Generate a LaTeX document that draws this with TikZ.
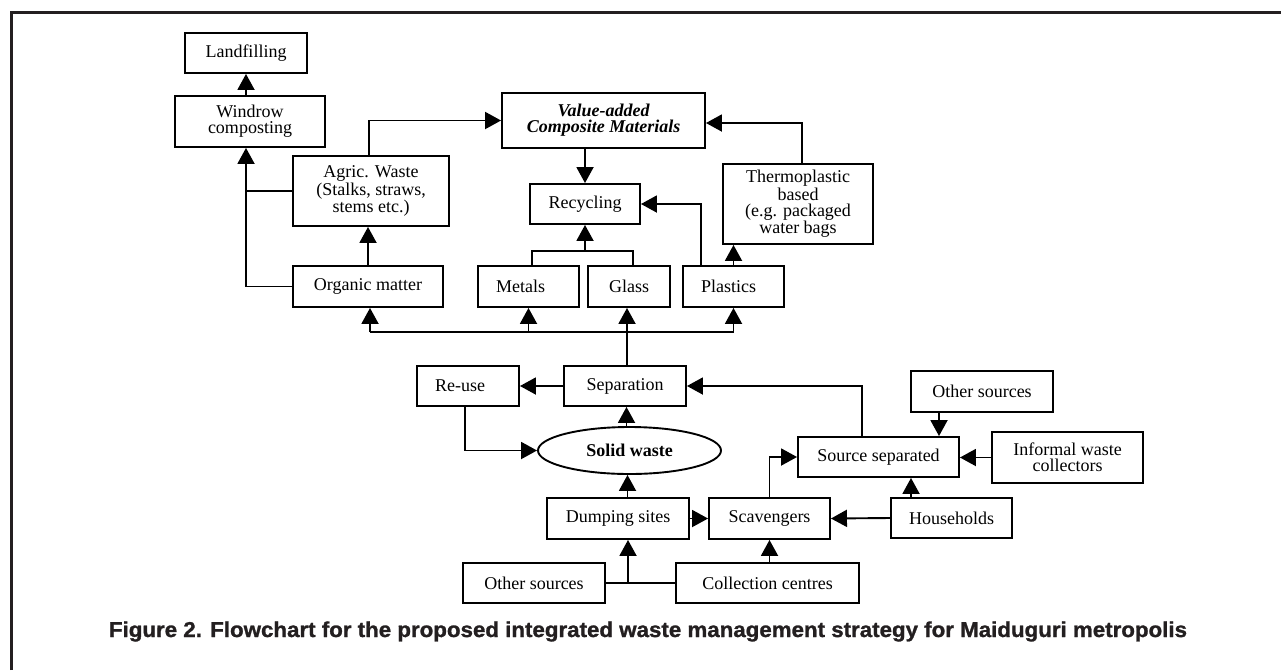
\documentclass[tikz,border=0pt]{standalone}
\usepackage{fontspec}
\setmainfont{Liberation Serif}
\newfontfamily\capfont{Liberation Sans}[BoldFeatures={FakeBold=1.2}]
\usetikzlibrary{arrows.meta,shapes.geometric,calc}
\definecolor{capcol}{RGB}{35,31,32}
\tikzset{
  box/.style={draw, line width=1.9pt, inner sep=0pt, align=center,
    font=\fontsize{18}{16}\selectfont},
  arr/.style={line width=1.9pt, -{Triangle[length=16pt,width=17pt]}},
  ln/.style={line width=1.9pt},
}
\newcommand{\bx}[6]{\node[box, minimum width=#4pt, minimum height=#5pt] (#1) at (#2,#3) {#6};}
\begin{document}
\begin{tikzpicture}[x=1pt,y=-1pt]
\useasboundingbox (0,0) rectangle (1281,670);
% frame
\draw[line width=3pt, color=capcol] (11.5,670) -- (11.5,12.5) -- (1281,12.5);

\bx{land}{246}{53}{122}{40}{Landfilling}
\bx{wind}{250}{121.5}{150}{51}{Windrow\\composting}
\bx{agric}{371}{191}{156}{70}{\fontsize{18}{18}\selectfont Agric. Waste\\(Stalks, straws,\\stems etc.)}
\bx{value}{603.5}{120.5}{203}{55}{\bfseries\itshape Value-added\\\bfseries\itshape Composite Materials}
\bx{recyc}{585}{204}{110}{40}{Recycling}
\bx{thermo}{798}{204}{150}{80}{Thermoplastic\\based\\(e.g. packaged\\water bags}
\bx{organic}{368}{286.5}{150}{41}{Organic matter}
\bx{metals}{528.5}{286.5}{101}{41}{Metals\hspace*{16pt}}
\bx{glass}{629}{286.5}{82}{41}{Glass}
\bx{plastics}{733.5}{286.5}{101}{41}{Plastics\hspace*{10pt}}
\bx{reuse}{468}{386}{102}{40}{Re-use\hspace*{16pt}}
\bx{sep}{625}{386}{122}{40}{Separation}
\node[draw, ellipse, line width=1.9pt, minimum width=183pt, minimum height=47pt, inner sep=0pt,
  font=\fontsize{18}{16}\selectfont\bfseries] (solid) at (629.5,450.5) {Solid waste};
\bx{srcsep}{878.5}{457}{161}{40}{Source separated}
\bx{other1}{982}{391.5}{142}{41}{Other sources}
\bx{informal}{1067.5}{457.5}{151}{51}{Informal waste\\collectors}
\bx{dump}{618}{518.5}{142}{41}{Dumping sites}
\bx{scav}{769.5}{518.5}{121}{41}{Scavengers}
\bx{house}{951.5}{518}{121}{40}{Households}
\bx{other2}{534}{583}{142}{40}{Other sources}
\bx{coll}{767.5}{583}{183}{40}{Collection centres}

% connectors
\draw[arr] (land.south |- wind.north) -- (land.south);
\draw[arr] (organic.west) -| ([xshift=-4pt]wind.south);
\draw[ln] (agric.west) -- ([xshift=-4pt]wind.south |- agric.west);
\draw[arr] (organic.north) -- (organic.north |- agric.south);
\draw[arr] ([xshift=-2pt]agric.north) |- (value.west);
\draw[arr] (recyc.north |- value.south) -- (recyc.north);
\draw[ln] ([xshift=3.5pt]metals.north) |- ([yshift=-26pt]recyc.south) -| ([xshift=4pt]glass.north);
\draw[arr] ([yshift=-26pt]recyc.south) -- (recyc.south);
\draw[arr] ([xshift=-32.5pt]plastics.north) |- (recyc.east);
\draw[arr] (plastics.north) -- (plastics.north |- thermo.south);
\draw[arr] ([xshift=4pt]thermo.north) |- ([yshift=-2.5pt]value.east);
\coordinate (bus) at (0,332);
\draw[ln] ([xshift=2pt]organic.south |- bus) -- (plastics.south |- bus);
\draw[arr] ([xshift=2pt]organic.south |- bus) -- ([xshift=2pt]organic.south);
\draw[arr] (metals.south |- bus) -- (metals.south);
\draw[arr] (plastics.south |- bus) -- (plastics.south);
\draw[arr] ([xshift=2pt]sep.north) -- ([xshift=2pt]sep.north |- glass.south);
\draw[arr] (sep.west) -- (reuse.east);
\draw[arr] ([xshift=-3pt]reuse.south) |- (solid.west);
\draw[arr] ([xshift=-3pt]solid.north) -- ([xshift=-3pt]solid.north |- sep.south);
\draw[arr] ([xshift=-2pt]solid.south |- dump.north) -- ([xshift=-2pt]solid.south);
\draw[arr] (dump.east) -- (scav.west);
\draw[arr] (scav.north) |- (srcsep.west);
\draw[arr] ([xshift=-16.5pt]srcsep.north) |- (sep.east);
\draw[arr] ([xshift=-43pt]other1.south) -- ([xshift=-43pt]other1.south |- srcsep.north);
\draw[arr] (informal.west) -- (informal.west -| srcsep.east);
\draw[arr] (house.west) -- (scav.east);
\draw[arr] ([xshift=-40.5pt]house.north) -- ([xshift=-40.5pt]house.north |- srcsep.south);
\draw[ln] (other2.east) -- (coll.west);
\draw[arr] ([xshift=-1.5pt]solid.south |- other2.east) -- ([xshift=-1.5pt]solid.south |- dump.south);
\draw[arr] (scav.south |- coll.north) -- (scav.south);

% caption
\node[anchor=base, text=capcol, inner sep=0pt] (cap) at (648,637)
  {\resizebox{1078pt}{\height}{\capfont\bfseries\fontsize{21.5}{24}\selectfont Figure 2. Flowchart for the proposed integrated waste management strategy for Maiduguri metropolis}};
\end{tikzpicture}
\end{document}
